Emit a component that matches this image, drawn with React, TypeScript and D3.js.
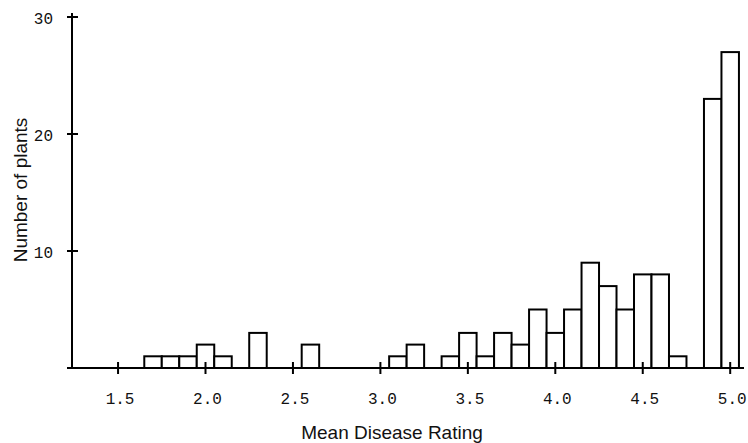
import React from "react";
import * as d3 from "d3";

// Histogram bins (centre of each 0.1-wide bin) and counts
const binCenters = [
  1.7, 1.8, 1.9, 2.0, 2.1, 2.2, 2.3, 2.4, 2.5, 2.6, 2.7, 2.8, 2.9, 3.0, 3.1, 3.2, 3.3,
  3.4, 3.5, 3.6, 3.7, 3.8, 3.9, 4.0, 4.1, 4.2, 4.3, 4.4, 4.5, 4.6, 4.7, 4.8, 4.9, 5.0,
];
const counts = [
  1, 1, 1, 2, 1, 0, 3, 0, 0, 2, 0, 0, 0, 0, 1, 2, 0,
  1, 3, 1, 3, 2, 5, 3, 5, 9, 7, 5, 8, 8, 1, 0, 23, 27,
];
const binWidth = 0.1;
const xTicks = [1.5, 2.0, 2.5, 3.0, 3.5, 4.0, 4.5, 5.0];
const xTickLabels = ["1.5", "2.0", "2.5", "3.0", "3.5", "4.0", "4.5", "5.0"];
const yTicks = [10, 20, 30];
const yTickLabels = ["10", "20", "30"];
const xTitle = "Mean Disease Rating";
const yTitle = "Number of plants";

export default function App() {
  const W = 748;
  const H = 443;
  const x = d3.scaleLinear().domain([2.0, 5.0]).range([205.5, 730.2]);
  const y = d3.scaleLinear().domain([0, 30]).range([368, 17]);
  const axisX = 72;
  const base = y(0);

  const bars = binCenters.map((c, i) => ({ c, v: counts[i] })).filter((d) => d.v > 0);

  return (
    <svg
      width={W}
      height={H}
      style={{ position: "absolute", left: 0, top: 0, background: "#fff" }}
      xmlns="http://www.w3.org/2000/svg"
    >
      <rect x={0} y={0} width={W} height={H} fill="#fff" />
      {/* bars */}
      <g stroke="#000" strokeWidth={2} fill="#fff">
        {bars.map((d, i) => {
          const x0 = x(d.c - binWidth / 2);
          const x1 = x(d.c + binWidth / 2);
          return (
            <rect
              key={i}
              x={x0}
              y={y(d.v)}
              width={x1 - x0}
              height={base - y(d.v)}
              strokeLinejoin="miter"
            />
          );
        })}
      </g>
      {/* axes */}
      <g stroke="#000" strokeWidth={2}>
        <line x1={67} x2={744} y1={base} y2={base} />
        <line x1={axisX} x2={axisX} y1={13} y2={base} />
        {yTicks.map((t) => (
          <line key={"yt" + t} x1={axisX - 5} x2={axisX + 6} y1={y(t)} y2={y(t)} />
        ))}
        {xTicks.map((t) => (
          <line key={"xt" + t} x1={x(t)} x2={x(t)} y1={base - 6} y2={base + 6} />
        ))}
      </g>
      {/* tick labels */}
      <g fontFamily="'Liberation Mono', 'Courier New', monospace" fontSize={16} fill="#111">
        {xTicks.map((t, i) => (
          <text key={"xl" + t} x={x(t) + 2} y={404} textAnchor="middle">
            {xTickLabels[i]}
          </text>
        ))}
        {yTicks.map((t, i) => (
          <text key={"yl" + t} x={53} y={y(t) + 7} textAnchor="end">
            {yTickLabels[i]}
          </text>
        ))}
      </g>
      {/* titles */}
      <g fontFamily="'Liberation Sans', Arial, Helvetica, sans-serif" fontSize={19} fill="#111">
        <text x={392} y={439} textAnchor="middle">
          {xTitle}
        </text>
        <text transform="translate(26.5,190) rotate(-90)" textAnchor="middle">
          {yTitle}
        </text>
      </g>
    </svg>
  );
}
